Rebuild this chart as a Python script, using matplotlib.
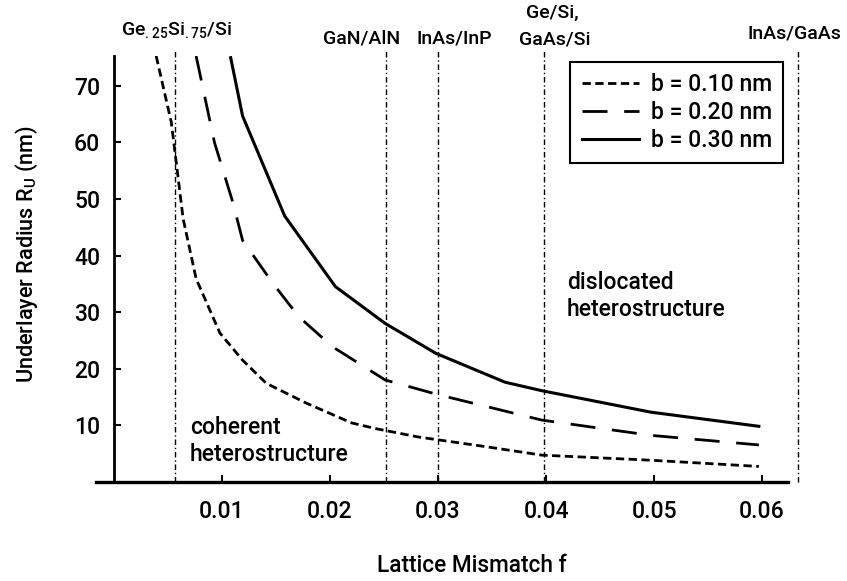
import matplotlib
matplotlib.use("Agg")
import matplotlib.pyplot as plt
import matplotlib.transforms as mtransforms

plt.rcParams['font.family'] = ['Roboto', 'DejaVu Sans']
plt.rcParams['font.weight'] = 'medium'
plt.rcParams['mathtext.fontset'] = 'custom'
plt.rcParams['mathtext.rm'] = 'Roboto:medium'

# critical radius curves
f_010 = [0.0039, 0.0053, 0.0064, 0.0076, 0.0098, 0.0119, 0.0141, 0.0178, 0.0220, 0.0242, 0.0282, 0.0344, 0.0396, 0.0497, 0.0597]
r_010 = [75.3, 63.6, 46.5, 35.9, 26.3, 21.5, 17.4, 13.9, 10.4, 9.4, 7.9, 6.2, 4.7, 3.8, 2.7]

f_020 = [0.0076, 0.0093, 0.0110, 0.0119, 0.0147, 0.0171, 0.0202, 0.0251, 0.0300, 0.0396, 0.0497, 0.0597]
r_020 = [75.3, 60.0, 49.4, 42.7, 35.1, 29.2, 23.9, 18.0, 15.4, 10.9, 8.2, 6.5]

f_030 = [0.0108, 0.0119, 0.0158, 0.0205, 0.0251, 0.0298, 0.0362, 0.0396, 0.0497, 0.0597]
r_030 = [75.0, 64.7, 47.0, 34.5, 28.0, 22.7, 17.6, 16.1, 12.3, 9.8]

# material systems (vertical lines)
mismatch = [0.0056, 0.0252, 0.0300, 0.0398, 0.0633]

xticks = [0.01, 0.02, 0.03, 0.04, 0.05, 0.06]
yticks = [10, 20, 30, 40, 50, 60, 70]

fig = plt.figure(figsize=(8.47, 5.81), dpi=100)
W, H = 847.0, 581.0
ax = fig.add_axes([96 / W, 1 - 481.7 / H, (788 - 96) / W, (481.7 - 56) / H])
ax.set_xlim(-0.00167, 0.0624)
ax.set_ylim(0, 75.3)

for s in ['top', 'right']:
    ax.spines[s].set_visible(False)
ax.spines['left'].set_position(('data', 0))
ax.spines['left'].set_linewidth(2.0)
ax.spines['bottom'].set_linewidth(2.4)

ax.set_xticks(xticks)
ax.set_xticklabels(["%.2f" % v for v in xticks])
ax.set_yticks(yticks)
ax.tick_params(axis='x', direction='in', length=5, width=1.5, labelsize=16.5, pad=13)
ax.tick_params(axis='y', direction='in', length=5, width=1.5, labelsize=16.5, pad=10)

# vertical reference lines
for m in mismatch:
    ax.plot([m, m], [0, 76.5], color='black', lw=1.0,
            linestyle=(0, (4, 2, 1, 2)), clip_on=False)

l1, = ax.plot(f_010, r_010, color='black', lw=2.0, dashes=(3, 1.6), label='b = 0.10 nm')
l2, = ax.plot(f_020, r_020, color='black', lw=2.0, dashes=(9, 6), label='b = 0.20 nm')
l3, = ax.plot(f_030, r_030, color='black', lw=2.2, label='b = 0.30 nm')

leg = ax.legend(handles=[l1, l2, l3], loc='upper right', bbox_to_anchor=(0.993, 0.986),
                borderaxespad=0, fontsize=16.5, handlelength=2.5, handletextpad=0.5,
                labelspacing=0.2, borderpad=0.5, fancybox=False, framealpha=1)
leg.get_frame().set_edgecolor('black')
leg.get_frame().set_linewidth(1.5)

# labels above the plot, x in data, y in figure
tr = mtransforms.blended_transform_factory(ax.transData, fig.transFigure)
top = [
    (0.0058, 31, r"Ge$_{\mathregular{.25}}$Si$_{\mathregular{.75}}$/Si"),
    (0.0229, 38.5, "GaN/AlN"),
    (0.0315, 38.5, "InAs/InP"),
    (0.0406, 12.5, "Ge/Si,"),
    (0.0408, 40, "GaAs/Si"),
    (0.0630, 33.5, "InAs/GaAs"),
]
for x, py, s in top:
    ax.text(x, 1 - py / H, s, transform=tr, ha='center', va='center',
            fontsize=14, clip_on=False)

fig.text(190 / W, 1 - 416 / H, "coherent\nheterostructure", ha='left', va='top', fontsize=16.5)
fig.text(566.7 / W, 1 - 271 / H, "dislocated\nheterostructure", ha='left', va='top', fontsize=16.5)

fig.text(472 / W, 1 - 566 / H, "Lattice Mismatch f", ha='center', va='center', fontsize=16.3)
fig.text(27 / W, 1 - 254 / H, r"Underlayer Radius R$_{\mathregular{U}}$ (nm)", ha='center',
         va='center', rotation=90, fontsize=15.6)

fig.savefig("out.png", dpi=100)
